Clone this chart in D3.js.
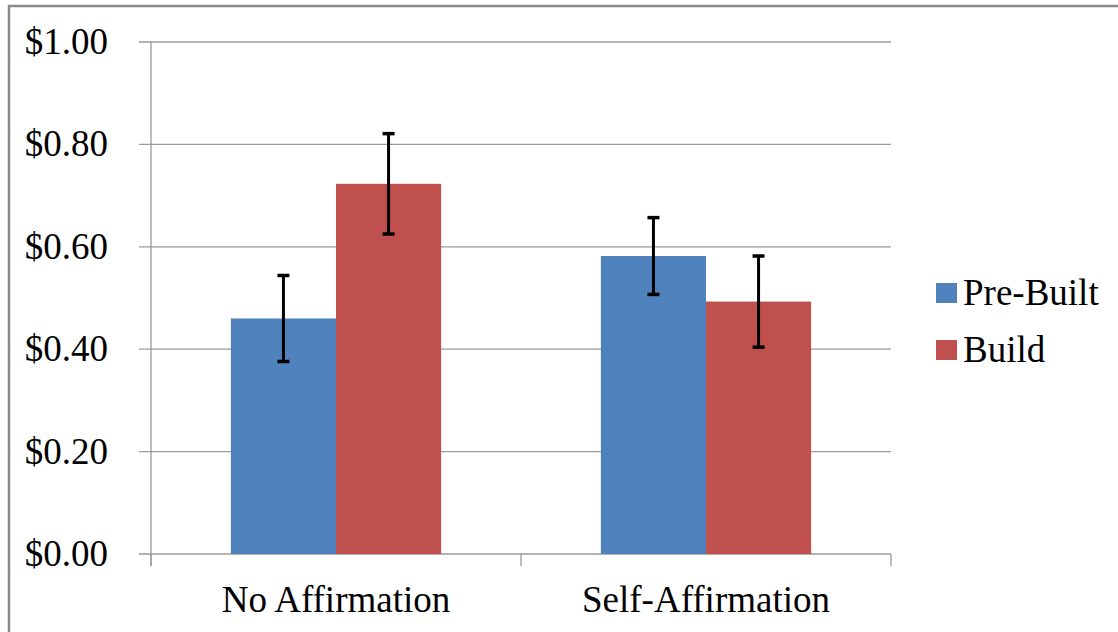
<!DOCTYPE html>
<html>
<head>
<meta charset="utf-8">
<script src="https://cdn.jsdelivr.net/npm/d3@7"></script>
</head>
<body style="margin:0">
<div id="chart"></div>
<script>
// chart data
const categories = ["No Affirmation", "Self-Affirmation"];
const seriesNames = ["Pre-Built", "Build"];
const seriesColors = ["#4f81bd", "#c0504d"];
const preBuilt = [0.46, 0.582];
const build = [0.723, 0.493];
const preBuiltErr = [0.084, 0.075];
const buildErr = [0.098, 0.089];
const yTicks = [0, 0.2, 0.4, 0.6, 0.8, 1.0];

const width = 1118, height = 632;
const plot = { left: 151, right: 891, top: 42, bottom: 554 };
const fontName = "'Liberation Serif', 'Times New Roman', serif";
const fontSize = "37px";

const svg = d3.select("#chart").append("svg")
    .attr("width", width)
    .attr("height", height);

// outer frame (runs off the right and bottom edges)
svg.append("rect")
    .attr("x", 9).attr("y", 6)
    .attr("width", width).attr("height", height)
    .attr("fill", "none")
    .attr("stroke", "#8a8a8a")
    .attr("stroke-width", 2.5);

const x0 = d3.scaleBand().domain(categories).range([plot.left, plot.right]);
const x1 = d3.scaleBand().domain(seriesNames).range([0, x0.bandwidth()]).paddingInner(0).paddingOuter(0.76);
const y = d3.scaleLinear().domain([0, 1]).range([plot.bottom, plot.top]);

// gridlines
svg.append("g")
    .selectAll("line")
    .data(yTicks)
    .enter().append("line")
    .attr("x1", plot.left - 12).attr("x2", plot.right)
    .attr("y1", d => y(d)).attr("y2", d => y(d))
    .attr("stroke", "#9a9a9a")
    .attr("stroke-width", 1.3);

// y tick labels
svg.append("g")
    .selectAll("text")
    .data(yTicks)
    .enter().append("text")
    .attr("x", 108)
    .attr("y", d => y(d) + 12)
    .attr("text-anchor", "end")
    .style("font-family", fontName)
    .style("font-size", fontSize)
    .text(d => "$" + d3.format(".2f")(d));

// bars
const rows = categories.map((c, i) => ({
    cat: c,
    vals: [
        { s: seriesNames[0], v: preBuilt[i], e: preBuiltErr[i], color: seriesColors[0] },
        { s: seriesNames[1], v: build[i], e: buildErr[i], color: seriesColors[1] }
    ]
}));

const group = svg.append("g")
    .selectAll("g")
    .data(rows)
    .enter().append("g")
    .attr("transform", d => `translate(${x0(d.cat)},0)`);

group.selectAll("rect")
    .data(d => d.vals)
    .enter().append("rect")
    .attr("x", d => x1(d.s))
    .attr("y", d => y(d.v))
    .attr("width", x1.bandwidth())
    .attr("height", d => y(0) - y(d.v))
    .attr("fill", d => d.color);

// error bars
const err = group.selectAll("g.err")
    .data(d => d.vals)
    .enter().append("g")
    .attr("class", "err")
    .attr("transform", d => `translate(${x1(d.s) + x1.bandwidth() / 2},0)`);

err.append("line")
    .attr("y1", d => y(d.v + d.e)).attr("y2", d => y(d.v - d.e))
    .attr("stroke", "#000").attr("stroke-width", 3);
err.selectAll("line.cap")
    .data(d => [d.v + d.e, d.v - d.e])
    .enter().append("line")
    .attr("class", "cap")
    .attr("x1", -6).attr("x2", 6)
    .attr("y1", d => y(d)).attr("y2", d => y(d))
    .attr("stroke", "#000").attr("stroke-width", 3.5);

// x axis ticks and labels
const xAxis = svg.append("g")
    .attr("transform", `translate(0,${plot.bottom})`);
xAxis.selectAll("line.tk")
    .data([plot.left, x0(categories[1]), plot.right])
    .enter().append("line")
    .attr("class", "tk")
    .attr("x1", d => d).attr("x2", d => d)
    .attr("y1", 0).attr("y2", 12)
    .attr("stroke", "#9a9a9a").attr("stroke-width", 1.3);
xAxis.selectAll("text")
    .data(categories)
    .enter().append("text")
    .attr("x", d => x0(d) + x0.bandwidth() / 2)
    .attr("y", 58)
    .attr("text-anchor", "middle")
    .style("font-family", fontName)
    .style("font-size", fontSize)
    .text(d => d);

// y axis line
svg.append("line")
    .attr("x1", plot.left).attr("x2", plot.left)
    .attr("y1", plot.top).attr("y2", plot.bottom + 12)
    .attr("stroke", "#9a9a9a").attr("stroke-width", 1.3);

// legend
const legend = svg.append("g")
    .selectAll("g")
    .data(seriesNames)
    .enter().append("g")
    .attr("transform", (d, i) => `translate(936,${283 + i * 57})`);
legend.append("rect")
    .attr("width", 21).attr("height", 20)
    .attr("fill", (d, i) => seriesColors[i]);
legend.append("text")
    .attr("x", 27).attr("y", 22)
    .style("font-family", fontName)
    .style("font-size", fontSize)
    .text(d => d);
</script>
</body>
</html>
